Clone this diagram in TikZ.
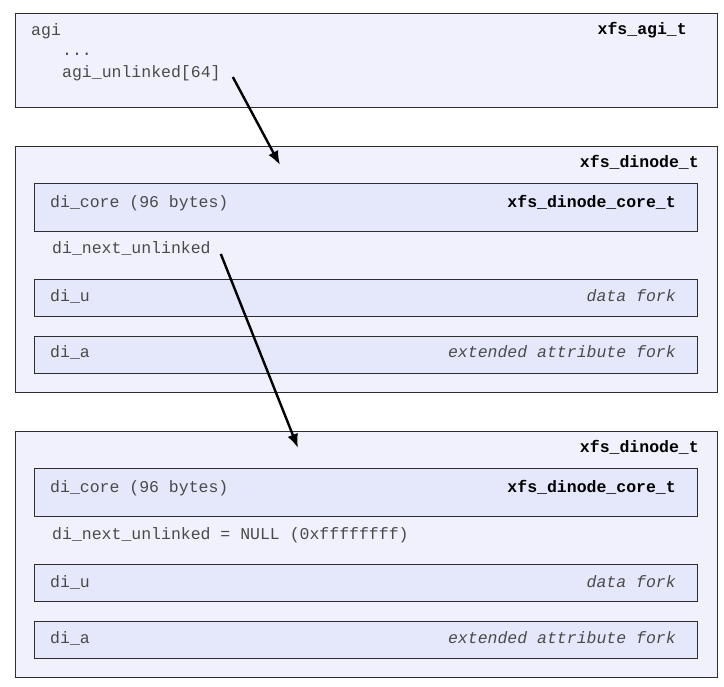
\documentclass[tikz,border=0pt]{standalone}
\usepackage{fontspec}
\setmonofont{Liberation Mono}
\usetikzlibrary{arrows.meta, positioning, calc}
\definecolor{outerc}{HTML}{F1F1FD}
\definecolor{innerc}{HTML}{E5E7FA}
\definecolor{edgec}{HTML}{2E2E2E}
\definecolor{txtc}{HTML}{4A4A4A}
\tikzset{
  outerbox/.style={draw=edgec, fill=outerc, line width=1.4pt,
        anchor=north west, inner sep=0pt},
  innerbox/.style={draw=edgec, fill=innerc, line width=1.4pt,
        anchor=north west, inner sep=0pt,
        minimum width=663pt},
  fld/.style={anchor=base west, inner sep=0pt, text=txtc,
        font=\fontsize{16.5}{18}\selectfont\ttfamily},
  typ/.style={anchor=base east, inner sep=0pt,
        font=\fontsize{16.5}{18}\selectfont\ttfamily\bfseries},
  fork/.style={anchor=base east, inner sep=0pt, text=txtc,
        font=\fontsize{16.5}{18}\selectfont\ttfamily\itshape},
  link/.style={-{Latex[length=14pt,width=11pt]}, line width=2.4pt},
}
% one xfs_dinode_t block: name, top edge, next-pointer text
\newcommand{\dinode}[3]{%
  \node[outerbox, minimum width=702pt, minimum height=246pt]
        (#1) at (15,#2) {};
  \node[typ] (#1-t) at (699,{#2+22}) {xfs\_dinode\_t};
  \node[innerbox, minimum height=48pt] (#1-core) at (34,{#2+37}) {};
  \node[fld] (#1-cn) at (50,{#2+62}) {di\_core (96 bytes)};
  \node[typ] (#1-ct) at (676,{#2+62}) {xfs\_dinode\_core\_t};
  \node[fld] (#1-nx) at (52,{#2+108}) {#3};
  \node[innerbox, minimum height=37pt] (#1-u) at (34,{#2+133}) {};
  \node[fld] (#1-un) at (50,{#2+156}) {di\_u};
  \node[fork] (#1-uf) at (676,{#2+156}) {data fork};
  \node[innerbox, minimum height=37pt] (#1-a) at (34,{#2+190}) {};
  \node[fld] (#1-an) at (50,{#2+212}) {di\_a};
  \node[fork] (#1-af) at (676,{#2+212}) {extended attribute fork};
}

\begin{document}
\begin{tikzpicture}[x=1pt, y=-1pt]
    \useasboundingbox (0,0) rectangle (724,687);
    % AGI header
    \node[outerbox, minimum width=702pt, minimum height=94pt]
          (agi) at (15,13) {};
    \node[fld] (agin) at (31,36) {agi};
    \node[fld] (dots) at (62,56) {...};
    \node[fld] (unl) at (62,78) {agi\_unlinked[64]};
    \node[typ] (agit) at (687,35) {xfs\_agi\_t};
    % unlinked inodes
    \dinode{ino1}{146}{di\_next\_unlinked}
    \dinode{ino2}{431}{di\_next\_unlinked = NULL (0xffffffff)}
    \coordinate (in1) at (280,165);
    \coordinate (in2) at (298,448);
    \draw[link] ([xshift=12pt,yshift=1pt]unl.base east) -- (in1);
    \draw[link] ([xshift=10pt]ino1-nx.base east) -- (in2);
  \end{tikzpicture}
\end{document}
